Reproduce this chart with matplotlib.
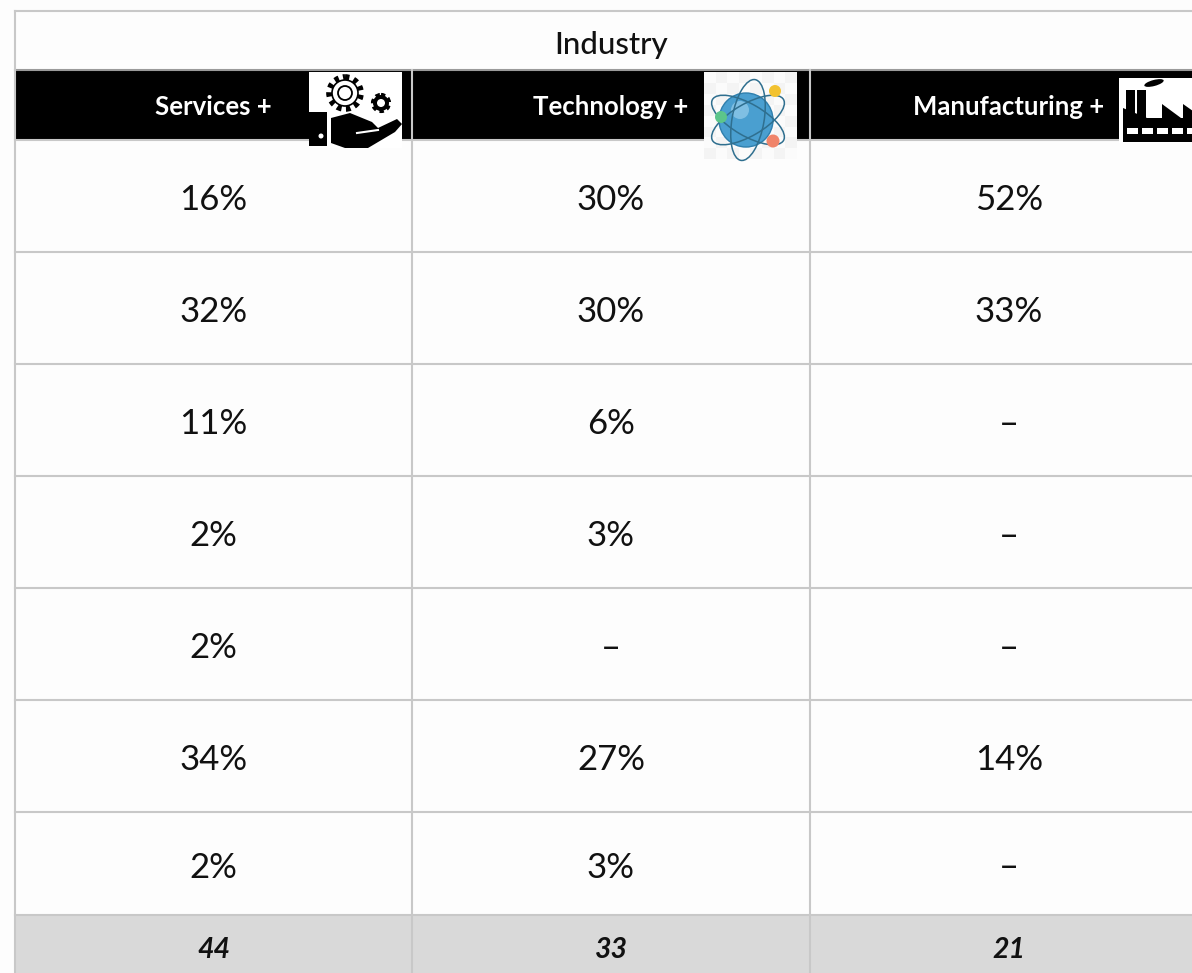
import matplotlib
matplotlib.use("Agg")
import matplotlib.pyplot as plt
from matplotlib.patches import Rectangle, Circle, Ellipse, Polygon

title = "Industry"
headers = ["Services +", "Technology +", "Manufacturing +"]
services = ["16%", "32%", "11%", "2%", "2%", "34%", "2%"]
technology = ["30%", "30%", "6%", "3%", "–", "27%", "3%"]
manufacturing = ["52%", "33%", "–", "–", "–", "14%", "–"]
totals = ["44", "33", "21"]

col_edges = [15, 412, 810, 1208]
row_edges = [140, 252, 364, 476, 588, 700, 812, 915]
grey = "#c8c8c8"
font = "Lato"

fig = plt.figure(figsize=(11.92, 9.73), dpi=100, facecolor="#fdfdfd")
ax = fig.add_axes([0, 0, 1, 1])
ax.set_xlim(0, 1192)
ax.set_ylim(973, 0)
ax.axis("off")

# bands
ax.add_patch(Rectangle((15, 70), 1200, 70, fc="black", ec="none", zorder=1))
ax.add_patch(Rectangle((15, 915), 1200, 60, fc="#d9d9d9", ec="none", zorder=1))

# grid lines
ax.plot([15, 1192], [11, 11], color=grey, lw=1.5, zorder=2)
ax.plot([15, 1192], [70, 70], color="#9a9a9a", lw=1.5, zorder=2)
for y in row_edges:
    ax.plot([15, 1192], [y, y], color=grey, lw=1.5, zorder=2)
ax.plot([15, 15], [11, 973], color=grey, lw=1.5, zorder=2)
for x in col_edges[1:3]:
    ax.plot([x, x], [70, 973], color=grey, lw=1.5, zorder=2)

ax.text(611, 45, title, ha="center", va="center", fontsize=22.5,
        family=font, weight="medium", color="#111111", zorder=3)

centers = [213.5, 611, 1009]
for x, h in zip(centers, headers):
    ax.text(x, 107, h, ha="center", va="center", fontsize=18.5,
            family=font, weight="bold", color="white", zorder=3)

columns = [services, technology, manufacturing]
for x, col in zip(centers, columns):
    for i, val in enumerate(col):
        y = (row_edges[i] + row_edges[i + 1]) / 2 + 2
        ax.text(x, y + 2 if i < 6 else y + 2, val, ha="center", va="center",
                fontsize=25, family=font, weight="normal", color="#111111", zorder=3)

for x, t in zip(centers, totals):
    ax.text(x, 950, t, ha="center", va="center", fontsize=20.5,
            family=font, weight="bold", style="italic", color="#111111", zorder=3)

# services icon
ax.add_patch(Rectangle((309, 72), 93, 76, fc="white", ec="none", zorder=4))
ax.add_patch(Circle((345, 93), 15, fc="white", ec="black", lw=5.5, ls=(0, (0.55, 0.55)), zorder=5))
ax.add_patch(Circle((345, 93), 13, fc="white", ec="black", lw=1.2, zorder=5))
ax.add_patch(Circle((345, 93), 7, fc="white", ec="black", lw=1.3, zorder=6))
ax.add_patch(Circle((381, 103), 8, fc="black", ec="black", lw=3, ls=(0, (1, 0.8)), zorder=5))
ax.add_patch(Circle((381, 103), 4, fc="white", ec="none", zorder=6))
ax.add_patch(Rectangle((309, 112), 18, 34, fc="black", ec="none", zorder=5))
ax.add_patch(Circle((321, 136), 2.5, fc="white", ec="none", zorder=6))
ax.add_patch(Polygon([(331, 118), (350, 113), (372, 122), (378, 128), (397, 119),
                      (402, 124), (395, 132), (368, 148), (345, 148), (331, 143)],
                     fc="black", ec="none", zorder=5))
ax.plot([357, 378], [133, 130], color="white", lw=1.5, zorder=6)

# technology icon
ax.add_patch(Rectangle((704, 72), 93, 87, fc="#f4f4f4", ec="none", zorder=4))
for s in range(8):
    for k in range(8):
        if (s + k) % 2 == 0:
            ax.add_patch(Rectangle((704 + s * 11.6, 72 + k * 10.9), 11.6, 10.9,
                                   fc="#fbfbfb", ec="none", zorder=4))
ax.add_patch(Circle((746, 120), 27, fc="#4a9fd0", ec="#2f7fad", lw=1, zorder=5))
ax.add_patch(Circle((740, 110), 9, fc="#7fbfe3", ec="none", zorder=6))
for ang in [30, 100, 150]:
    ax.add_patch(Ellipse((748, 120), 82, 32, angle=ang, fc="none", ec="#2f6f8f", lw=1.1, zorder=6))
ax.add_patch(Circle((721, 117), 6, fc="#5cc58a", ec="none", zorder=7))
ax.add_patch(Circle((775, 91), 6, fc="#f2c230", ec="none", zorder=7))
ax.add_patch(Circle((773, 141), 6.5, fc="#f0846a", ec="none", zorder=7))

# manufacturing icon
ax.add_patch(Rectangle((1119, 78), 80, 65, fc="white", ec="none", zorder=4))
ax.add_patch(Polygon([(1123, 142), (1123, 108), (1147, 118), (1162, 118), (1162, 104), (1181, 118),
                      (1183, 118), (1183, 104), (1200, 116), (1200, 142)],
                     fc="black", ec="none", zorder=5))
ax.add_patch(Rectangle((1126, 90), 9, 29, fc="black", ec="none", zorder=6))
ax.add_patch(Rectangle((1137, 90), 9, 29, fc="black", ec="none", zorder=6))
ax.add_patch(Ellipse((1154, 83), 20, 6, angle=-15, fc="black", ec="none", zorder=6))
for i in range(5):
    ax.add_patch(Rectangle((1127 + i * 15, 128), 11, 6, fc="white", ec="none", zorder=7))

fig.savefig("out.png", dpi=100, facecolor=fig.get_facecolor())
